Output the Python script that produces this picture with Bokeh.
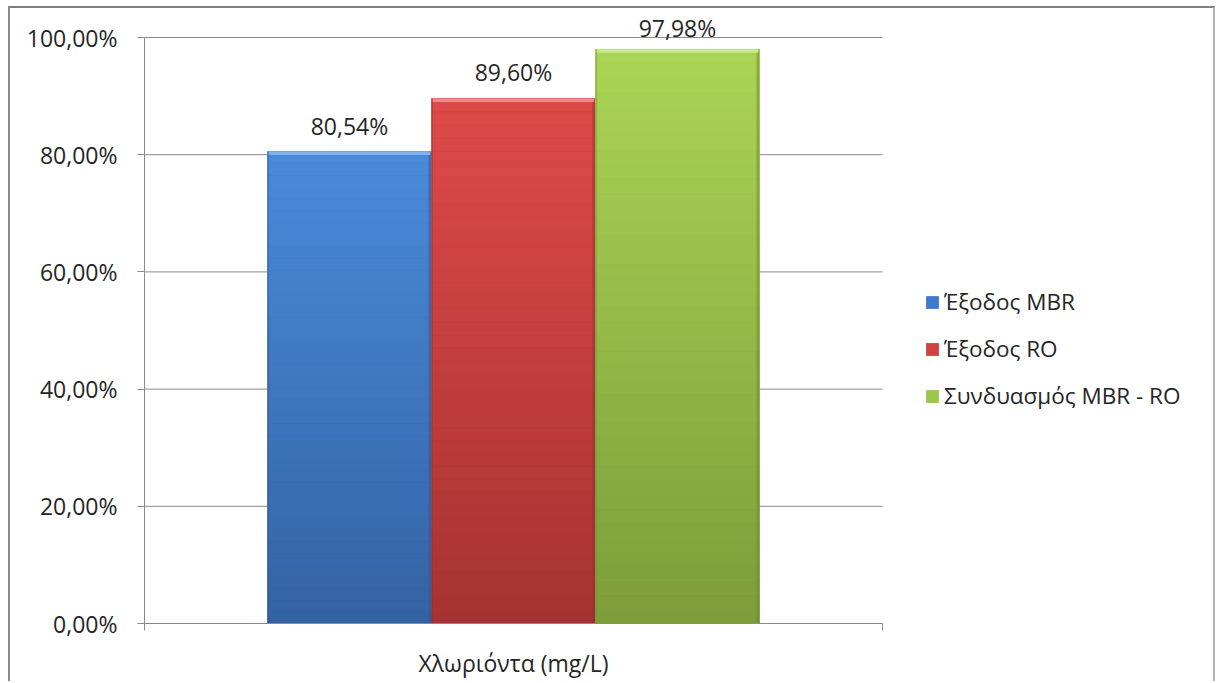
from bokeh.plotting import figure
from bokeh.models import (ColumnDataSource, Range1d, FixedTicker,
                          Legend, LegendItem)
from bokeh.core.properties import value
from bokeh.embed import file_html
from bokeh.resources import INLINE

# ---- data -------------------------------------------------------------
categories = ["Χλωριόντα (mg/L)"]
series = ["Έξοδος MBR", "Έξοδος RO", "Συνδυασμός MBR - RO"]
removal = [80.54, 89.60, 97.98]
value_labels = ["80,54%", "89,60%", "97,98%"]
y_ticks = [0, 20, 40, 60, 80, 100]
y_tick_labels = ["0,00%", "20,00%", "40,00%", "60,00%", "80,00%", "100,00%"]

# ---- styling ----------------------------------------------------------
FONT = "Open Sans"
TEXT = "#262626"
GRID = "#8a8a8a"
mid_colors = ["#3f7bc8", "#cf4240", "#9cc54c"]
top_colors = ["#4a8bda", "#de4a48", "#aad556"]
bottom_colors = ["#3462a3", "#a53331", "#7c9d39"]
highlight = ["#7fb3ee", "#ee8a88", "#c9ea8a"]
edge_colors = ["#2f5a96", "#963030", "#6f8c33"]
label_offsets = [-26, -26, -21]
BAR_W = 2 / 9                      # 150 % gap between category groups
offsets = [-BAR_W, 0.0, BAR_W]
N_SLICES = 40
# each category occupies one unit on x; the frame continues to the right
# so that the legend sits inside it, and leaves headroom above 100 %
X_END = 1073 / 738
Y_END = 100 * 615 / 586
EDGE_W = 3 / 738                   # shaded bevel along the bar sides
n_cat = len(categories)
centers = [k + 0.5 for k in range(n_cat)]


def mix(c1, c2, t):
    a = [int(c1[i:i + 2], 16) for i in (1, 3, 5)]
    b = [int(c2[i:i + 2], 16) for i in (1, 3, 5)]
    return "#" + "".join(f"{round(x + (y - x) * t):02x}" for x, y in zip(a, b))


p = figure(
    width=1207, height=675,
    x_range=Range1d(0, n_cat * X_END),
    y_range=Range1d(0, Y_END),
    output_backend="svg", toolbar_location=None,
    min_border_left=134, min_border_right=0,
    min_border_top=0, min_border_bottom=60,
    background_fill_color="white", border_fill_color="white",
    styles={
        "margin-left": "8px",
        "margin-top": "6px",
        "border-left": "2px solid #8c8c8c",
        "border-top": "2px solid #7f7f7f",
        "border-right": "2px solid #b4b4b4",
    },
)
p.outline_line_color = None
p.xgrid.grid_line_color = None
p.ygrid.grid_line_color = None

# horizontal gridlines across the category area only
grid_src = ColumnDataSource(dict(y=y_ticks, x0=[0] * len(y_ticks),
                                 x1=[n_cat] * len(y_ticks)))
p.segment(x0="x0", x1="x1", y0="y", y1="y", source=grid_src,
          line_color=GRID, line_width=1)

yax = p.yaxis[0]
yax.ticker = FixedTicker(ticks=y_ticks)
yax.bounds = (0, 100)
yax.major_label_overrides = {t: s for t, s in zip(y_ticks, y_tick_labels)}
yax.minor_tick_line_color = None
yax.major_tick_in = 0
yax.major_tick_out = 7
yax.major_tick_line_color = GRID
yax.axis_line_color = GRID
yax.major_label_standoff = 20
yax.major_label_text_font = FONT
yax.major_label_text_font_size = "23px"
yax.major_label_text_color = TEXT

xax = p.xaxis[0]
xax.ticker = FixedTicker(ticks=centers,
                         minor_ticks=list(range(n_cat + 1)))
xax.bounds = (0, n_cat)
xax.major_label_overrides = {c: s for c, s in zip(centers, categories)}
xax.axis_line_color = GRID
xax.major_tick_line_color = None
xax.minor_tick_line_color = GRID
xax.minor_tick_in = 0
xax.minor_tick_out = 7
xax.major_label_standoff = 16
xax.major_label_text_font = FONT
xax.major_label_text_font_size = "23px"
xax.major_label_text_color = TEXT

legend_items = []
for i, name in enumerate(series):
    v = removal[i]
    xs = [c + offsets[i] for c in centers]
    base = ColumnDataSource(dict(x=xs, top=[v]))
    r = p.vbar(x="x", top="top", bottom=0, width=BAR_W, source=base,
               fill_color=mid_colors[i], line_color=None)
    legend_items.append(LegendItem(label=name, renderers=[r]))

    # vertical gradient, lighter towards the top of each bar
    bots = [v * k / N_SLICES for k in range(N_SLICES)]
    tops = [v * (k + 1) / N_SLICES for k in range(N_SLICES)]
    cols = [mix(bottom_colors[i], top_colors[i], (k + 0.5) / N_SLICES)
            for k in range(N_SLICES)]
    grad = ColumnDataSource(dict(x=xs * N_SLICES, bottom=bots,
                                 top=tops, color=cols))
    p.vbar(x="x", top="top", bottom="bottom", width=BAR_W, source=grad,
           fill_color="color", line_color="color", line_width=0.5)

    # darker bevel along the right side, thin shade along the left side
    right_edge = [x + BAR_W / 2 - EDGE_W / 2 for x in xs]
    left_edge = [x - BAR_W / 2 + EDGE_W / 4 for x in xs]
    p.vbar(x=right_edge, top=[v], bottom=0, width=EDGE_W,
           fill_color=edge_colors[i], fill_alpha=0.55, line_color=None)
    p.vbar(x=left_edge, top=[v], bottom=0, width=EDGE_W / 2,
           fill_color=edge_colors[i], fill_alpha=0.45, line_color=None)

    # bevelled rim along the top edge
    rim = ColumnDataSource(dict(x=xs, top=[v], bottom=[v - 0.6]))
    p.vbar(x="x", top="top", bottom="bottom", width=BAR_W * 0.985,
           source=rim, fill_color=highlight[i], line_color=None)

    lab = ColumnDataSource(dict(x=xs, y=[v], text=[value_labels[i]]))
    p.text(x="x", y="y", text="text", source=lab,
           text_align="center", text_baseline="middle",
           y_offset=label_offsets[i],
           text_font=value(FONT), text_font_size="23px", text_color=TEXT)

legend = Legend(items=legend_items, location=(780, 212),
                orientation="vertical")
legend.label_text_font = FONT
legend.label_text_font_size = "22.5px"
legend.label_text_color = TEXT
legend.glyph_width = 16
legend.glyph_height = 16
legend.label_height = 20
legend.label_standoff = 4
legend.spacing = 16
legend.padding = 0
legend.margin = 0
legend.border_line_color = None
legend.background_fill_alpha = 0
p.add_layout(legend, "center")

open("out.html", "w").write(file_html(p, INLINE))
